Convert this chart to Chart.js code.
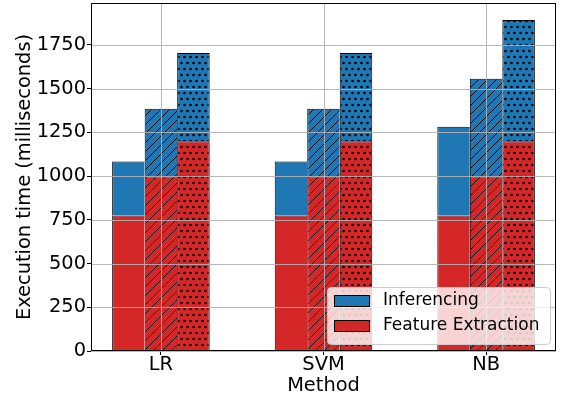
<!DOCTYPE html>
<html><head><meta charset="utf-8">
<script src="https://cdn.jsdelivr.net/npm/chart.js@4/dist/chart.umd.min.js"></script>
<style>html,body{margin:0;padding:0;background:#fff}#wrap{width:565px;height:400px;position:relative}</style>
</head><body><div id="wrap"><canvas id="c" width="565" height="400"></canvas></div>
<script>
// ---- data ----
const categories = ['LR', 'SVM', 'NB'];
const variants = ['solid', 'hatch', 'dots'];
const featureSolid = [775, 775, 775];
const featureHatch = [1000, 1000, 1000];
const featureDots  = [1200, 1200, 1200];
const inferSolid = [308, 308, 508];
const inferHatch = [385, 385, 557];
const inferDots  = [504, 504, 693];
const seriesNames = ['Inferencing', 'Feature Extraction'];
const yTicks = [0, 250, 500, 750, 1000, 1250, 1500, 1750];
const yMax = 1990;
const xTickValues = [0, 1, 2];

// ---- styling ----
const BLUE = '#1f77b4', RED = '#d62728';
const FONT = 'DejaVu Sans';

function makePattern(color, kind) {
  if (kind === 'solid') return color;
  const c = document.createElement('canvas');
  const g = c.getContext('2d');
  if (kind === 'hatch') {
    const s = 9;
    c.width = s; c.height = s;
    g.fillStyle = color; g.fillRect(0, 0, s, s);
    g.strokeStyle = '#000'; g.lineWidth = 1;
    g.beginPath();
    g.moveTo(-1, s + 1); g.lineTo(s + 1, -1);
    g.moveTo(-2, 2); g.lineTo(2, -2);
    g.moveTo(s - 2, s + 2); g.lineTo(s + 2, s - 2);
    g.stroke();
  } else {
    c.width = 6; c.height = 12;
    g.fillStyle = color; g.fillRect(0, 0, 6, 12);
    g.fillStyle = '#000';
    g.beginPath(); g.arc(1.5, 3, 1.3, 0, Math.PI * 2); g.fill();
    g.beginPath(); g.arc(4.5, 9, 1.3, 0, Math.PI * 2); g.fill();
  }
  return g.createPattern(c, 'repeat');
}

const featureSets = [featureSolid, featureHatch, featureDots];
const inferSets = [inferSolid, inferHatch, inferDots];
const datasets = [];
variants.forEach((v, i) => {
  datasets.push({
    label: seriesNames[1] + ' ' + v,
    stack: 's' + i,
    data: featureSets[i].map((y, k) => ({x: k, y})),
    backgroundColor: makePattern(RED, v),
    borderColor: '#000',
    borderWidth: {left: 1, top: 1, bottom: 0, right: i === 2 ? 1 : 0},
    borderSkipped: false,
    inflateAmount: 0
  });
});
variants.forEach((v, i) => {
  datasets.push({
    label: seriesNames[0] + ' ' + v,
    stack: 's' + i,
    data: inferSets[i].map((y, k) => ({x: k, y})),
    backgroundColor: makePattern(BLUE, v),
    borderColor: '#000',
    borderWidth: {left: 1, top: 1, bottom: 0, right: i === 2 ? 1 : 0},
    borderSkipped: false,
    inflateAmount: 0
  });
});

const overlay = {
  id: 'overlay',
  afterDatasetsDraw(chart) {
    const {ctx, chartArea: a, scales} = chart;
    ctx.save();
    // grid over bars
    ctx.strokeStyle = 'rgba(176,176,176,0.9)';
    ctx.lineWidth = 1;
    ctx.beginPath();
    yTicks.forEach(v => {
      const y = Math.round(scales.y.getPixelForValue(v)) + 0.5;
      ctx.moveTo(a.left, y); ctx.lineTo(a.right, y);
    });
    xTickValues.forEach(v => {
      const x = Math.round(scales.x.getPixelForValue(v)) + 0.5;
      ctx.moveTo(x, a.top); ctx.lineTo(x, a.bottom);
    });
    ctx.stroke();
    // legend
    const w = 223, h = 57;
    const bx = a.right - 6 - w, by = a.bottom - 7 - h;
    ctx.fillStyle = 'rgba(255,255,255,0.8)';
    ctx.strokeStyle = '#cccccc';
    ctx.beginPath();
    ctx.roundRect(bx + 0.5, by + 0.5, w, h, 4);
    ctx.fill(); ctx.stroke();
    const rows = [[seriesNames[0], BLUE, 14], [seriesNames[1], RED, 39]];
    ctx.font = '17px "' + FONT + '"';
    ctx.textBaseline = 'middle';
    ctx.textAlign = 'left';
    rows.forEach(([name, col, dy]) => {
      ctx.fillStyle = col;
      ctx.fillRect(bx + 7, by + dy - 6, 35, 12);
      ctx.strokeStyle = '#000';
      ctx.strokeRect(bx + 7.5, by + dy - 5.5, 35, 11);
      ctx.fillStyle = '#000';
      ctx.fillText(name, bx + 56, by + dy);
    });
    // spines
    ctx.strokeStyle = '#000';
    ctx.lineWidth = 1;
    ctx.strokeRect(a.left + 0.5, a.top + 0.5, a.right - a.left - 1, a.bottom - a.top - 1);
    ctx.restore();
  }
};

new Chart(document.getElementById('c'), {
  type: 'bar',
  data: {datasets},
  plugins: [overlay],
  options: {
    responsive: false,
    animation: false,
    devicePixelRatio: 1,
    layout: {padding: {top: 3, right: 9, left: 0, bottom: 0}},
    plugins: {legend: {display: false}, tooltip: {enabled: false}},
    datasets: {bar: {categoryPercentage: 0.6, barPercentage: 1, grouped: true}},
    scales: {
      x: {
        type: 'linear',
        min: -0.43, max: 2.43,
        offset: false,
        grid: {display: true, drawOnChartArea: false, drawTicks: true, tickLength: 4, tickColor: '#000', offset: false},
        border: {display: false},
        afterBuildTicks: s => { s.ticks = xTickValues.map(v => ({value: v})); },
        ticks: {
          autoSkip: false, maxRotation: 0, padding: -2,
          color: '#000', font: {family: FONT, size: 19.4},
          callback: v => categories[v] ?? ''
        },
        title: {display: true, text: 'Method', color: '#000', font: {family: FONT, size: 19.4}, padding: {top: 0, bottom: 2.5}},
        afterFit: s => { s.height = 49; s.paddingLeft = 0; s.paddingRight = 0; }
      },
      y: {
        stacked: true,
        min: 0, max: yMax,
        grid: {display: true, drawOnChartArea: false, drawTicks: true, tickLength: 4, tickColor: '#000'},
        border: {display: false},
        afterBuildTicks: s => { s.ticks = yTicks.map(v => ({value: v})); },
        ticks: {autoSkip: false, padding: 1, color: '#000', font: {family: FONT, size: 19.4}, callback: v => String(v)},
        title: {display: true, text: 'Execution time (milliseconds)', color: '#000', font: {family: FONT, size: 19.4}, padding: {top: 13, bottom: 0}},
        afterFit: s => { s.width = 91; s.paddingTop = 0; s.paddingBottom = 0; }
      }
    }
  }
});
</script></body></html>
